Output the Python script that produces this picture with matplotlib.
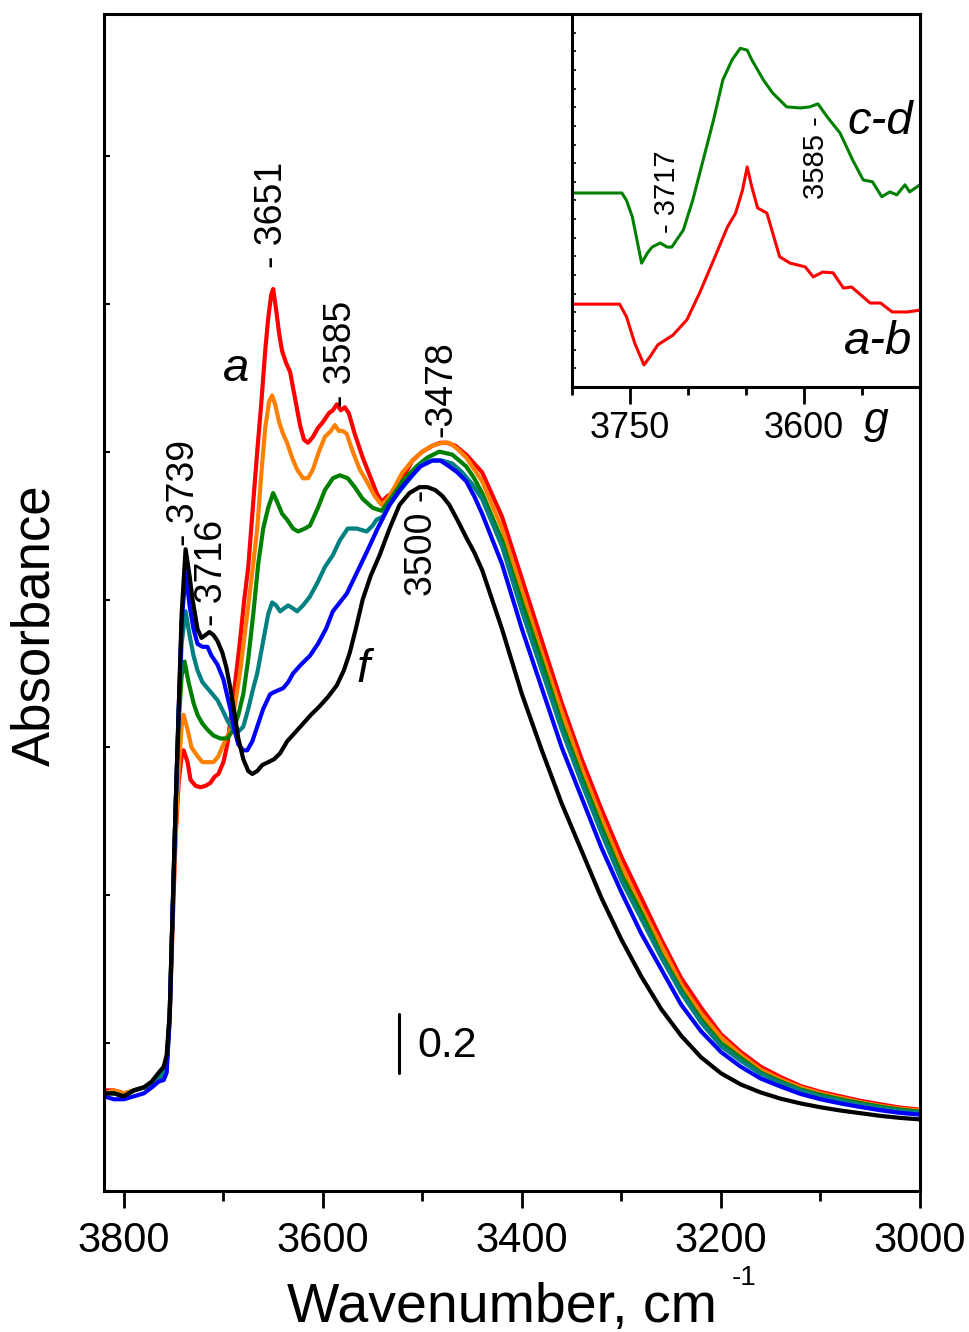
import matplotlib.pyplot as plt
from matplotlib.ticker import MultipleLocator, FixedLocator

plt.rcParams['font.family'] = ['Liberation Sans', 'DejaVu Sans']

# main spectra: absorbance vs wavenumber (head part read per curve, tail on a shared grid)
tail_wn = [3440, 3420, 3400, 3380, 3360, 3340, 3320, 3300, 3280, 3260, 3240, 3220,
           3200, 3180, 3160, 3140, 3120, 3100, 3080, 3060, 3040, 3020, 3000]

a_wn = [3820, 3810, 3800, 3790, 3780, 3772, 3765, 3760, 3757, 3754, 3751, 3748, 3745, 3742, 3740,
        3736, 3733, 3728, 3723, 3718, 3713, 3709, 3705, 3700, 3696, 3690, 3686, 3683, 3679, 3675,
        3670, 3666, 3662, 3658, 3655, 3652, 3650, 3647, 3644, 3641, 3637, 3633, 3628, 3623, 3619,
        3615, 3610, 3605, 3600, 3594, 3590, 3586, 3582, 3578, 3574, 3568, 3560, 3553, 3546, 3541,
        3535, 3530, 3522, 3515, 3510, 3500, 3490, 3482, 3475, 3467, 3456, 3448]
a_abs = [.34, .34, .33, .34, .35, .36, .38, .40, .43, .58, .90, 1.20, 1.38, 1.47, 1.49,
         1.45, 1.39, 1.37, 1.365, 1.37, 1.38, 1.40, 1.41, 1.45, 1.51, 1.67, 1.78, 1.87, 2.00, 2.11,
         2.33, 2.50, 2.66, 2.84, 2.95, 3.03, 3.05, 2.98, 2.90, 2.84, 2.80, 2.77, 2.68, 2.59, 2.54,
         2.53, 2.55, 2.58, 2.60, 2.63, 2.64, 2.66, 2.64, 2.65, 2.63, 2.56, 2.48, 2.42, 2.36, 2.33,
         2.35, 2.36, 2.40, 2.44, 2.47, 2.50, 2.52, 2.53, 2.53, 2.52, 2.49, 2.46]
a_tail = [2.43, 2.28, 2.07, 1.86, 1.65, 1.46, 1.29, 1.13, 0.99, 0.85, 0.72, 0.62,
          0.53, 0.47, 0.42, 0.385, 0.355, 0.335, 0.32, 0.305, 0.293, 0.282, 0.275]

b_wn = [3820, 3810, 3800, 3790, 3780, 3772, 3765, 3760, 3757, 3754, 3751, 3748, 3745, 3742, 3740,
        3736, 3732, 3726, 3721, 3716, 3710, 3705, 3700, 3693, 3688, 3683, 3679, 3675, 3670, 3666,
        3662, 3658, 3654, 3651, 3648, 3644, 3640, 3636, 3631, 3626, 3620, 3615, 3610, 3604, 3598,
        3592, 3588, 3584, 3580, 3576, 3570, 3563, 3556, 3548, 3541, 3535, 3528, 3520, 3510, 3500,
        3490, 3480, 3473, 3465, 3456, 3448]
b_abs = [.33, .34, .33, .34, .35, .36, .38, .40, .43, .58, .92, 1.22, 1.42, 1.57, 1.61,
         1.56, 1.50, 1.47, 1.45, 1.45, 1.45, 1.47, 1.51, 1.56, 1.65, 1.76, 1.87, 1.98, 2.12, 2.24,
         2.42, 2.58, 2.67, 2.69, 2.66, 2.60, 2.56, 2.53, 2.48, 2.44, 2.41, 2.41, 2.44, 2.50, 2.55,
         2.57, 2.59, 2.57, 2.57, 2.56, 2.50, 2.44, 2.40, 2.35, 2.32, 2.34, 2.38, 2.43, 2.47, 2.50,
         2.52, 2.53, 2.53, 2.51, 2.48, 2.44]
b_tail = [2.40, 2.24, 2.03, 1.82, 1.62, 1.43, 1.26, 1.10, 0.96, 0.83, 0.70, 0.60,
          0.52, 0.46, 0.41, 0.377, 0.35, 0.33, 0.315, 0.30, 0.288, 0.278, 0.272]

c_wn = [3820, 3810, 3800, 3790, 3780, 3772, 3765, 3760, 3757, 3754, 3751, 3748, 3745, 3742, 3739,
        3735, 3730, 3726, 3721, 3716, 3710, 3703, 3696, 3690, 3685, 3680, 3675, 3670, 3665, 3660,
        3655, 3650, 3646, 3641, 3636, 3630, 3625, 3618, 3613, 3605, 3598, 3590, 3583, 3575, 3568,
        3560, 3550, 3541, 3530, 3520, 3506, 3495, 3483, 3470, 3456, 3448]
c_abs = [.33, .33, .32, .34, .35, .36, .38, .40, .43, .60, .95, 1.30, 1.58, 1.74, 1.79,
         1.72, 1.65, 1.61, 1.58, 1.56, 1.54, 1.53, 1.53, 1.56, 1.61, 1.68, 1.80, 1.95, 2.12, 2.24,
         2.31, 2.36, 2.33, 2.29, 2.27, 2.24, 2.23, 2.24, 2.25, 2.31, 2.37, 2.41, 2.42, 2.41, 2.38,
         2.34, 2.31, 2.30, 2.35, 2.40, 2.45, 2.48, 2.50, 2.49, 2.45, 2.41]
c_tail = [2.36, 2.20, 1.99, 1.79, 1.58, 1.40, 1.23, 1.07, 0.94, 0.80, 0.68, 0.58,
          0.50, 0.45, 0.40, 0.37, 0.343, 0.325, 0.31, 0.297, 0.285, 0.275, 0.268]

d_wn = [3820, 3810, 3800, 3790, 3780, 3772, 3765, 3760, 3757, 3754, 3751, 3748, 3745, 3742, 3738,
        3734, 3730, 3726, 3721, 3716, 3711, 3706, 3700, 3696, 3690, 3686, 3680, 3675, 3670, 3666,
        3660, 3655, 3651, 3647, 3643, 3639, 3635, 3630, 3626, 3620, 3613, 3605, 3598, 3590, 3583,
        3575, 3566, 3556, 3550, 3546, 3540, 3533, 3522, 3510, 3500, 3490, 3480, 3470, 3460, 3450]
d_abs = [.33, .33, .32, .34, .35, .36, .38, .40, .43, .60, .95, 1.30, 1.62, 1.85, 1.96,
         1.88, 1.81, 1.76, 1.72, 1.70, 1.68, 1.66, 1.62, 1.59, 1.56, 1.55, 1.57, 1.63, 1.70, 1.75,
         1.86, 1.95, 1.99, 1.98, 1.96, 1.97, 1.98, 1.97, 1.96, 1.98, 2.01, 2.06, 2.11, 2.15, 2.20,
         2.24, 2.24, 2.23, 2.25, 2.27, 2.28, 2.32, 2.37, 2.42, 2.46, 2.47, 2.47, 2.46, 2.43, 2.39]
d_tail = [2.34, 2.18, 1.96, 1.76, 1.56, 1.38, 1.21, 1.05, 0.92, 0.79, 0.67, 0.57,
          0.49, 0.44, 0.396, 0.365, 0.34, 0.32, 0.305, 0.292, 0.281, 0.271, 0.265]

e_wn = [3820, 3810, 3800, 3790, 3780, 3772, 3765, 3760, 3757, 3754, 3751, 3748, 3745, 3742, 3738,
        3734, 3730, 3726, 3721, 3716, 3712, 3706, 3700, 3693, 3689, 3685, 3680, 3676, 3671, 3666,
        3660, 3653, 3647, 3640, 3635, 3630, 3622, 3613, 3605, 3597, 3590, 3583, 3576, 3566, 3556,
        3545, 3533, 3523, 3513, 3502, 3490, 3482, 3473, 3465, 3456, 3448]
e_abs = [.32, .31, .31, .32, .33, .35, .37, .375, .40, .58, .95, 1.30, 1.62, 1.92, 2.09,
         1.98, 1.90, 1.85, 1.84, 1.84, 1.81, 1.78, 1.73, 1.63, 1.56, 1.51, 1.49, 1.49, 1.52, 1.57,
         1.63, 1.68, 1.69, 1.70, 1.72, 1.75, 1.78, 1.81, 1.85, 1.90, 1.96, 1.99, 2.02, 2.09, 2.16,
         2.24, 2.32, 2.37, 2.41, 2.45, 2.47, 2.47, 2.45, 2.43, 2.40, 2.35]
e_tail = [2.29, 2.12, 1.90, 1.70, 1.50, 1.33, 1.16, 1.01, 0.87, 0.75, 0.63, 0.54,
          0.47, 0.42, 0.38, 0.353, 0.328, 0.31, 0.296, 0.284, 0.273, 0.264, 0.258]

f_wn = [3820, 3810, 3800, 3790, 3780, 3772, 3765, 3760, 3757, 3754, 3751, 3748, 3745, 3742, 3738,
        3734, 3731, 3726, 3722, 3718, 3714, 3710, 3706, 3701, 3697, 3693, 3689, 3685, 3680, 3675,
        3671, 3666, 3661, 3655, 3649, 3643, 3636, 3628, 3620, 3612, 3603, 3595, 3586, 3579, 3573,
        3567, 3560, 3552, 3543, 3533, 3523, 3513, 3503, 3495, 3487, 3480, 3473, 3465, 3456, 3448]
f_abs = [.33, .33, .32, .34, .35, .37, .40, .42, .46, .60, .95, 1.30, 1.62, 1.95, 2.17,
         2.08, 2.00, 1.90, 1.87, 1.88, 1.89, 1.88, 1.86, 1.82, 1.77, 1.70, 1.62, 1.53, 1.46, 1.42,
         1.41, 1.42, 1.44, 1.45, 1.46, 1.48, 1.52, 1.55, 1.58, 1.61, 1.64, 1.67, 1.71, 1.76, 1.82,
         1.90, 2.00, 2.08, 2.15, 2.24, 2.32, 2.36, 2.38, 2.38, 2.37, 2.35, 2.32, 2.27, 2.21, 2.16]
f_tail = [2.10, 1.90, 1.68, 1.49, 1.31, 1.15, 0.99, 0.85, 0.725, 0.615, 0.525, 0.452,
          0.398, 0.36, 0.333, 0.312, 0.296, 0.283, 0.272, 0.263, 0.254, 0.247, 0.242]

# inset difference spectra (arbitrary units)
cd_wn = [3800, 3757, 3753, 3748, 3744, 3740, 3735, 3731, 3724, 3718, 3714, 3704, 3696, 3687, 3678,
         3670, 3662, 3655, 3649, 3645, 3635, 3627, 3615, 3603, 3595, 3588, 3580, 3569, 3558, 3549,
         3541, 3533, 3526, 3520, 3513, 3509, 3500]
cd_val = [0.52, 0.52, 0.50, 0.456, 0.394, 0.332, 0.359, 0.375, 0.386, 0.375, 0.375, 0.421, 0.50,
          0.608, 0.716, 0.823, 0.877, 0.908, 0.903, 0.877, 0.823, 0.788, 0.751, 0.748, 0.751,
          0.759, 0.724, 0.681, 0.608, 0.555, 0.55, 0.51, 0.523, 0.515, 0.542, 0.523, 0.542]
ab_wn = [3800, 3759, 3753, 3746, 3738, 3733, 3726, 3713, 3701, 3690, 3678, 3666, 3659, 3653, 3649,
         3645, 3640, 3632, 3621, 3612, 3599, 3592, 3584, 3575, 3566, 3559, 3543, 3534, 3524, 3511,
         3500]
ab_val = [0.222, 0.222, 0.188, 0.118, 0.059, 0.080, 0.113, 0.139, 0.180, 0.252, 0.340, 0.429,
          0.466, 0.528, 0.590, 0.536, 0.48, 0.466, 0.349, 0.332, 0.322, 0.295, 0.308, 0.306,
          0.265, 0.268, 0.225, 0.225, 0.201, 0.201, 0.206]

curves = [
    (a_wn, a_abs, a_tail, '#FF0000'),
    (b_wn, b_abs, b_tail, '#FF8000'),
    (c_wn, c_abs, c_tail, '#008000'),
    (d_wn, d_abs, d_tail, '#008080'),
    (e_wn, e_abs, e_tail, '#0000FF'),
    (f_wn, f_abs, f_tail, '#000000'),
]


def plot():
    fig = plt.figure(figsize=(9.7, 13.32), dpi=100)
    ax = fig.add_axes([0.1072, 0.1059, 0.8412, 0.8836])

    for wn, ab, tail, col in curves:
        ax.plot(wn + tail_wn, ab + tail, color=col, lw=3.0, solid_joinstyle='round')

    ax.set_xlim(3820, 3000)
    ax.set_ylim(0, 3.98)
    ax.xaxis.set_major_locator(MultipleLocator(200))
    ax.xaxis.set_minor_locator(MultipleLocator(100))
    ax.yaxis.set_major_locator(MultipleLocator(0.5))
    ax.tick_params(axis='x', which='major', direction='out', length=12, width=2,
                   labelsize=30, pad=10)
    ax.tick_params(axis='x', which='minor', direction='out', length=7, width=2)
    ax.tick_params(axis='y', which='major', direction='in', length=4, width=1.5,
                   labelleft=False)
    for s in ax.spines.values():
        s.set_linewidth(2.2)

    # peak labels
    lab = dict(rotation=90, ha='center', va='center', fontsize=27)
    ax.text(3740, 2.36, '- 3739', **lab)
    ax.text(3711, 2.09, '- 3716', **lab)
    ax.text(3651, 3.30, '- 3651', **lab)
    ax.text(3582, 2.83, '- 3585', **lab)
    ax.text(3481, 2.71, '-3478', **lab)
    ax.text(3500, 2.19, '3500 -', **lab)
    ax.text(3687, 2.78, 'a', fontsize=34, style='italic', ha='center', va='center')
    ax.text(3560, 1.76, 'f', fontsize=34, style='italic', ha='center', va='center')

    # 0.2 absorbance scale bar
    ax.plot([3524, 3524], [0.40, 0.60], color='black', lw=2.2, solid_capstyle='round')
    ax.text(3505, 0.49, '0.2', fontsize=31, ha='left', va='center')

    fig.text(0.296, 0.0075, 'Wavenumber, cm', fontsize=40, ha='left', va='baseline')
    fig.text(0.7546, 0.0353, '-1', fontsize=20, ha='left', va='baseline')
    fig.text(0.036, 0.531, 'Absorbance', fontsize=38, rotation=90, ha='center', va='center')

    # inset with difference spectra
    ins = fig.add_axes([0.5897, 0.7095, 0.3588, 0.2800])
    ins.plot(cd_wn, cd_val, color='#008000', lw=2.2)
    ins.plot(ab_wn, ab_val, color='#FF0000', lw=2.2)
    ins.set_xlim(3800, 3500)
    ins.set_ylim(0, 1)
    ins.xaxis.set_major_locator(FixedLocator([3750, 3600]))
    ins.xaxis.set_minor_locator(MultipleLocator(50))
    ins.yaxis.set_major_locator(MultipleLocator(0.05))
    ins.tick_params(axis='x', which='major', direction='out', length=12, width=2,
                    labelsize=26, pad=5)
    ins.tick_params(axis='x', which='minor', direction='out', length=6, width=2)
    ins.tick_params(axis='y', which='major', direction='in', length=3, width=1.2,
                    labelleft=False)
    for s in ins.spines.values():
        s.set_linewidth(2.2)
    ins.text(3534, 0.71, 'c-d', fontsize=34, style='italic', ha='center', va='center')
    ins.text(3536, 0.12, 'a-b', fontsize=34, style='italic', ha='center', va='center')
    ins.text(3718, 0.523, '- 3717', rotation=90, ha='center', va='center', fontsize=21)
    ins.text(3590, 0.614, '3585 -', rotation=90, ha='center', va='center', fontsize=21)
    fig.text(0.903, 0.675, 'g', fontsize=32, style='italic', ha='center', va='baseline')

    fig.savefig('out.png', dpi=100)


if __name__ == '__main__':
    plot()
